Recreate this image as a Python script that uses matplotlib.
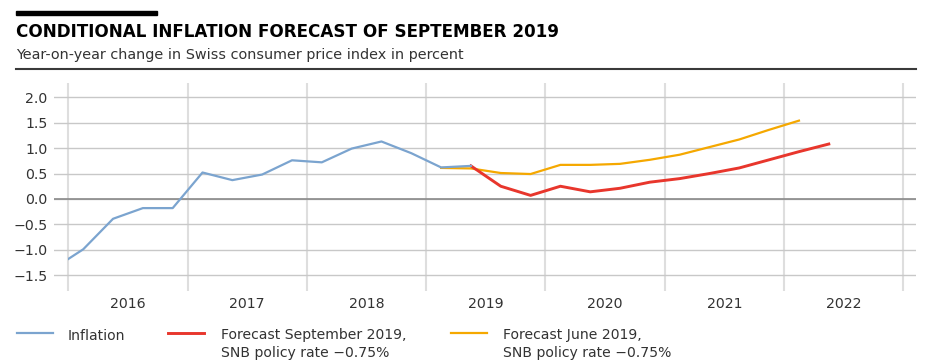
import matplotlib
matplotlib.use("Agg")
import matplotlib.pyplot as plt
from matplotlib.patches import Rectangle
from matplotlib.lines import Line2D

plt.rcParams["font.family"] = ["DejaVu Sans"]

# quarterly data, year-on-year CPI change in percent (plotted at mid-quarter)
infl_quarters = ["2015Q4", "2016Q1", "2016Q2", "2016Q3", "2016Q4",
                 "2017Q1", "2017Q2", "2017Q3", "2017Q4",
                 "2018Q1", "2018Q2", "2018Q3", "2018Q4",
                 "2019Q1", "2019Q2"]
inflation = [-1.37, -0.99, -0.39, -0.18, -0.18,
             0.52, 0.37, 0.48, 0.76,
             0.72, 0.99, 1.13, 0.90,
             0.62, 0.65]

sep_quarters = ["2019Q2", "2019Q3", "2019Q4",
                "2020Q1", "2020Q2", "2020Q3", "2020Q4",
                "2021Q1", "2021Q2", "2021Q3", "2021Q4",
                "2022Q1", "2022Q2"]
forecast_sep = [0.65, 0.25, 0.07,
                0.25, 0.14, 0.21, 0.33,
                0.40, 0.50, 0.61, 0.77,
                0.93, 1.08]

jun_quarters = ["2019Q1", "2019Q2", "2019Q3", "2019Q4",
                "2020Q1", "2020Q2", "2020Q3", "2020Q4",
                "2021Q1", "2021Q2", "2021Q3", "2021Q4",
                "2022Q1"]
forecast_jun = [0.61, 0.60, 0.51, 0.49,
                0.67, 0.67, 0.69, 0.77,
                0.87, 1.02, 1.17, 1.36,
                1.54]

years = [2016, 2017, 2018, 2019, 2020, 2021, 2022]
yticks = [2.0, 1.5, 1.0, 0.5, 0.0, -0.5, -1.0, -1.5]

title = "CONDITIONAL INFLATION FORECAST OF SEPTEMBER 2019"
subtitle = "Year-on-year change in Swiss consumer price index in percent"
labels = ["Inflation",
          "Forecast September 2019,\nSNB policy rate \u22120.75%",
          "Forecast June 2019,\nSNB policy rate \u22120.75%"]
colors = ["#7ba4cf", "#e8362c", "#f5a800"]


def qpos(q):
    return int(q[:4]) + (int(q[-1]) - 0.5) / 4


W, H = 945, 361
fig = plt.figure(figsize=(W / 100, H / 100), dpi=100)


def fx(x):
    return x / W


def fy(y):
    return 1 - y / H


ax = fig.add_axes([fx(54), fy(291), (916 - 54) / W, (291 - 83) / H])
ax.set_xlim(2015.88, 2023.106)
ax.set_ylim(-1.81, 2.28)

# grid
ax.set_yticks(yticks)
ax.set_yticklabels([f"{v:.1f}".replace("-", "\u2212") for v in yticks])
ax.set_xticks(years + [years[-1] + 1])
ax.set_xticklabels([])
ax.set_xticks([y + 0.5 for y in years], minor=True)
ax.set_xticklabels([str(y) for y in years], minor=True)
ax.grid(axis="y", color="#c8c8c8", lw=1.0)
ax.grid(axis="x", which="major", color="#dedede", lw=1.5)
ax.axhline(0, color="#8a8a8a", lw=1.2, zorder=1.5)
ax.set_axisbelow(True)
for s in ax.spines.values():
    s.set_visible(False)
ax.tick_params(axis="y", length=0, pad=4.8, labelsize=10.2, labelcolor="#333333")
ax.tick_params(axis="x", which="both", length=0, pad=4.5, labelsize=10.2,
               labelcolor="#333333")

l_jun, = ax.plot([qpos(q) for q in jun_quarters], forecast_jun,
                 color=colors[2], lw=1.6, zorder=3)
l_sep, = ax.plot([qpos(q) for q in sep_quarters], forecast_sep,
                 color=colors[1], lw=2.1, zorder=4)
l_inf, = ax.plot([qpos(q) for q in infl_quarters], inflation,
                 color=colors[0], lw=1.6, zorder=5)
# history starts at the 2016 boundary
l_inf.set_clip_path(Rectangle((2016, -5), 10, 10, transform=ax.transData))

# header
fig.patches.append(Rectangle((fx(16), fy(15)), (157 - 16) / W, 4 / H,
                             transform=fig.transFigure, color="black"))
fig.text(fx(16), fy(37.3), title, weight="bold", size=12.1, va="baseline",
         color="black")
fig.text(fx(16), fy(58.5), subtitle, size=10.4, va="baseline", color="#333333")
fig.add_artist(Line2D([fx(16), fx(916)], [fy(68.7), fy(68.7)],
                      transform=fig.transFigure, color="#3a3a3a", lw=1.5))

# legend
for (hx, tx), lab, col in zip([(17, 68), (168, 221), (451, 503)], labels, colors):
    fig.add_artist(Line2D([fx(hx), fx(hx + 36)], [fy(333.3), fy(333.3)],
                          transform=fig.transFigure, color=col,
                          lw=2.1 if col == colors[1] else 1.6))
    first, *rest = lab.split("\n")
    fig.text(fx(tx), fy(339.5), first, size=10.1, va="baseline", color="#333333")
    for i, line in enumerate(rest, 1):
        fig.text(fx(tx), fy(339.5 + 17 * i), line, size=10.1, va="baseline",
                 color="#333333")

fig.savefig("out.png", dpi=100)
